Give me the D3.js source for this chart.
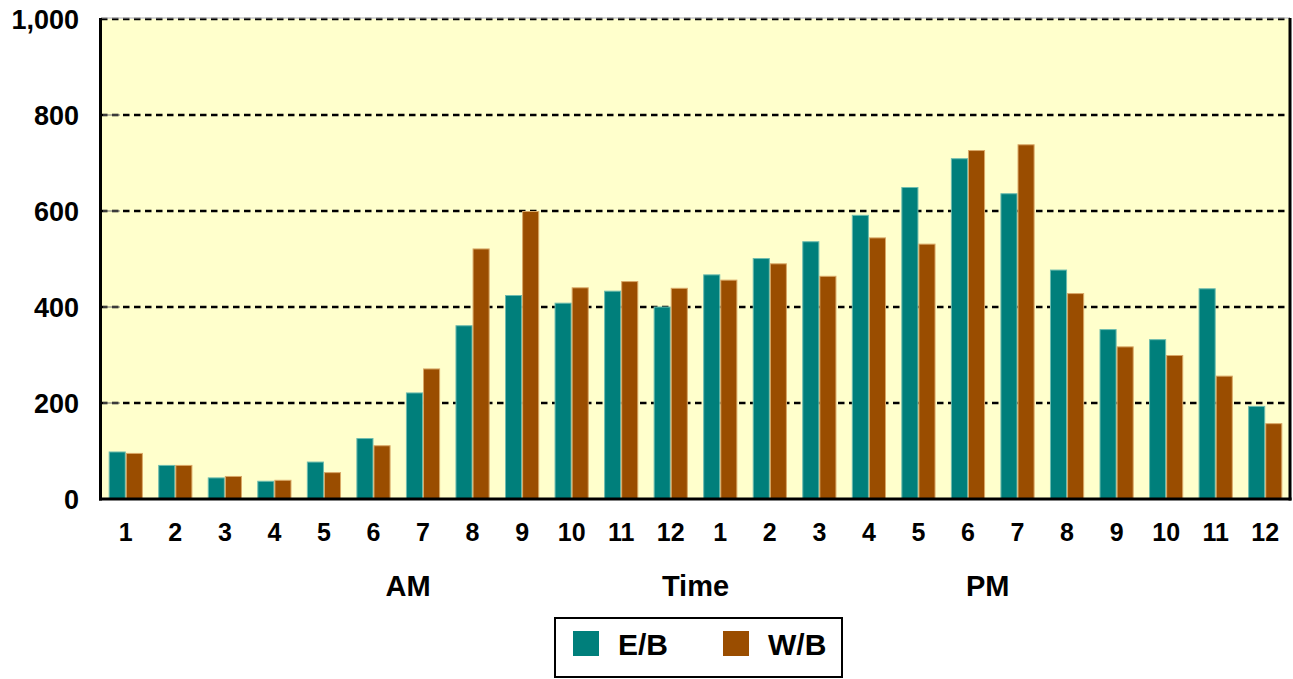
<!DOCTYPE html>
<html>
<head>
<meta charset="utf-8">
<script src="https://cdn.jsdelivr.net/npm/d3@7"></script>
<style>
  body { margin: 0; background: #fff; }
  text { font-family: "Liberation Sans", Arial, sans-serif; font-weight: bold; fill: #000; }
</style>
</head>
<body>
<div class="chart"></div>
<script>
// hours of the day, AM then PM
var hours = ["1","2","3","4","5","6","7","8","9","10","11","12",
             "1","2","3","4","5","6","7","8","9","10","11","12"];
var seriesNames = ["E/B", "W/B"];
var eastbound = [99, 71, 45, 38, 78, 127, 222, 362, 425, 409, 434, 401,
                 468, 502, 537, 592, 650, 710, 637, 478, 354, 333, 439, 194];
var westbound = [96, 71, 48, 40, 56, 112, 272, 522, 600, 441, 454, 440,
                 457, 491, 465, 545, 532, 727, 739, 429, 318, 300, 257, 158];
var yTicks = [0, 200, 400, 600, 800, 1000];
var periodLabels = [{text: "AM", at: 6.2}, {text: "Time", at: 12}, {text: "PM", at: 17.9}];

var svgWidth = 1293;
var svgHeight = 679;
var margin = { top: 19, right: 3, bottom: 180, left: 101 };
var width = svgWidth - margin.left - margin.right;
var height = svgHeight - margin.top - margin.bottom;

var colors = { "E/B": "#007f7b", "W/B": "#9a4d00" };
var edges = { "E/B": "#6dbcae", "W/B": "#d9a867" };

var svg = d3.select(".chart")
  .append("svg")
  .attr("width", svgWidth)
  .attr("height", svgHeight);

var chartGroup = svg.append("g")
  .attr("transform", `translate(${margin.left}, ${margin.top})`);

var rows = hours.map(function(h, i) {
  return { key: i, label: h, "E/B": eastbound[i], "W/B": westbound[i] };
});

var x0 = d3.scaleBand()
  .domain(rows.map(d => d.key))
  .range([0, width])
  .paddingInner(0.31)
  .paddingOuter(0.155);

var x1 = d3.scaleBand()
  .domain(seriesNames)
  .range([0, x0.bandwidth()]);

var y = d3.scaleLinear()
  .domain([0, 1000])
  .range([height, 0]);

// plot background
chartGroup.append("rect")
  .attr("width", width)
  .attr("height", height)
  .attr("fill", "#ffffcc");

// gridlines
chartGroup.selectAll(".grid")
  .data(yTicks.filter(t => t > 0))
  .enter()
  .append("line")
  .attr("x1", 0)
  .attr("x2", width)
  .attr("y1", d => y(d))
  .attr("y2", d => y(d))
  .attr("stroke", "#000")
  .attr("stroke-width", 2.7)
  .attr("stroke-dasharray", "6.5,4.5");

// small inner ticks
chartGroup.selectAll(".itick")
  .data(yTicks.filter(t => t > 0 && t < 1000))
  .enter()
  .append("line")
  .attr("x1", 2)
  .attr("x2", 19)
  .attr("y1", d => y(d))
  .attr("y2", d => y(d))
  .attr("stroke", "#777")
  .attr("stroke-width", 1);

// bars
var groups = chartGroup.selectAll(".hour")
  .data(rows)
  .enter()
  .append("g")
  .attr("transform", d => `translate(${x0(d.key)}, 0)`);

groups.selectAll("rect")
  .data(d => seriesNames.map(s => ({ series: s, value: d[s] })))
  .enter()
  .append("rect")
  .attr("x", d => x1(d.series) + 0.5)
  .attr("y", d => y(d.value) + 0.5)
  .attr("width", x1.bandwidth() - 1)
  .attr("height", d => height - y(d.value) - 0.5)
  .attr("fill", d => colors[d.series])
  .attr("stroke", d => edges[d.series])
  .attr("stroke-width", 1);

// frame
chartGroup.append("line")
  .attr("x1", 0).attr("x2", width)
  .attr("y1", -1).attr("y2", -1)
  .attr("stroke", "#aaa").attr("stroke-width", 1);
chartGroup.append("line")
  .attr("x1", -0.5).attr("x2", -0.5)
  .attr("y1", -1).attr("y2", height + 1.5)
  .attr("stroke", "#000").attr("stroke-width", 3);
chartGroup.append("line")
  .attr("x1", width).attr("x2", width)
  .attr("y1", -1).attr("y2", height + 1.5)
  .attr("stroke", "#000").attr("stroke-width", 3);
chartGroup.append("line")
  .attr("x1", -2).attr("x2", width + 1.5)
  .attr("y1", height).attr("y2", height)
  .attr("stroke", "#000").attr("stroke-width", 3);

// y axis labels
chartGroup.selectAll(".ylab")
  .data(yTicks)
  .enter()
  .append("text")
  .attr("x", -22)
  .attr("y", d => y(d))
  .attr("dy", "0.36em")
  .attr("text-anchor", "end")
  .style("font-size", "27px")
  .text(d => d3.format(",")(d));

// x axis labels
chartGroup.selectAll(".xlab")
  .data(rows)
  .enter()
  .append("text")
  .attr("x", d => x0(d.key) + x0.bandwidth() / 2)
  .attr("y", height + 42)
  .attr("text-anchor", "middle")
  .style("font-size", "25px")
  .text(d => d.label);

// AM / Time / PM
var step = x0.step();
chartGroup.selectAll(".period")
  .data(periodLabels)
  .enter()
  .append("text")
  .attr("x", d => d.at * step)
  .attr("y", height + 97)
  .attr("text-anchor", "middle")
  .style("font-size", "29px")
  .text(d => d.text);

// legend
var legend = svg.append("g")
  .attr("transform", "translate(555, 618)");

legend.append("rect")
  .attr("width", 287)
  .attr("height", 59)
  .attr("fill", "#fff")
  .attr("stroke", "#000")
  .attr("stroke-width", 2);

var items = legend.selectAll(".item")
  .data(seriesNames)
  .enter()
  .append("g")
  .attr("transform", (d, i) => `translate(${18 + i * 150}, 13)`);

items.append("rect")
  .attr("width", 26)
  .attr("height", 25)
  .attr("fill", d => colors[d]);

items.append("text")
  .attr("x", 45)
  .attr("y", 24)
  .style("font-size", "30px")
  .text(d => d);
</script>
</body>
</html>
